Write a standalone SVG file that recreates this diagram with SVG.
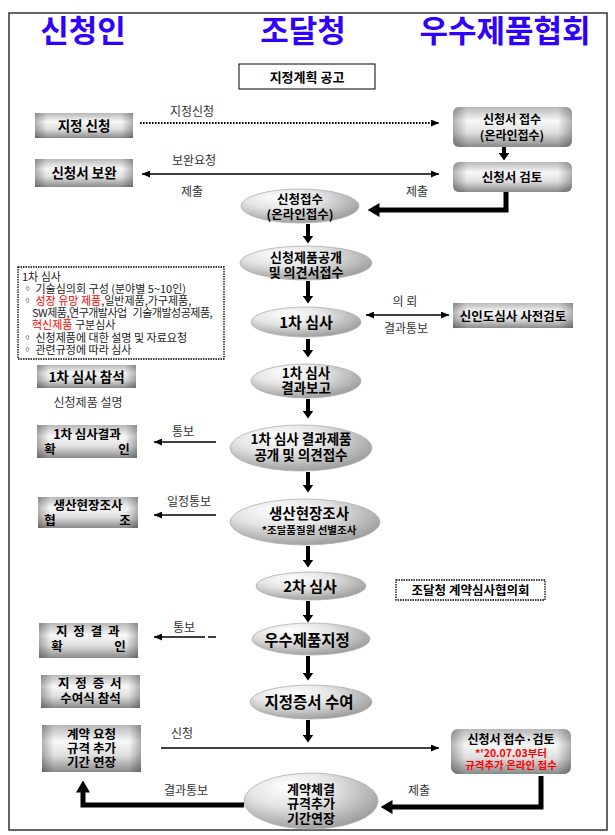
<svg xmlns="http://www.w3.org/2000/svg" width="615" height="835" viewBox="0 0 615 835">
<style>
text{font-family:"Noto Sans CJK KR","Noto Sans",sans-serif;}
.ttl{font-size:31px;font-weight:bold;fill:#3000ff;text-anchor:middle;}
.b{font-weight:bold;fill:#000;text-anchor:middle;}
.lb{font-size:12px;fill:#333;text-anchor:middle;}
.nt{font-size:11px;fill:#222;}
.red{fill:#f00;}
.box{fill:url(#gBox);}
.edge{fill:url(#gEdge);}
.el{fill:url(#gEl);stroke:#b0b0b0;stroke-width:0.8;}
.thin{stroke:#000;stroke-width:1.3;fill:none;}
.va{stroke:#000;stroke-width:4;fill:none;marker-end:url(#mV);}
.thick{stroke:#000;stroke-width:5;fill:none;marker-end:url(#mB);}
</style>
<defs>
<linearGradient id="gBox" x1="0" y1="0" x2="0" y2="1">
<stop offset="0" stop-color="#b8b8b8"/>
<stop offset="0.35" stop-color="#f8f8f8"/>
<stop offset="0.65" stop-color="#dedede"/>
<stop offset="1" stop-color="#8a8a8a"/>
</linearGradient>
<linearGradient id="gEdge" x1="0" y1="0" x2="1" y2="0">
<stop offset="0" stop-color="#000" stop-opacity="0.28"/>
<stop offset="0.12" stop-color="#000" stop-opacity="0"/>
<stop offset="0.88" stop-color="#000" stop-opacity="0"/>
<stop offset="1" stop-color="#000" stop-opacity="0.28"/>
</linearGradient>
<radialGradient id="gEl" cx="0.4" cy="0.35" r="0.72" fx="0.32" fy="0.22">
<stop offset="0" stop-color="#ffffff"/>
<stop offset="0.45" stop-color="#e4e4e4"/>
<stop offset="1" stop-color="#959595"/>
</radialGradient>
<marker id="mT" viewBox="0 0 8 7" markerWidth="8" markerHeight="7" refX="8" refY="3.5" orient="auto-start-reverse" markerUnits="userSpaceOnUse">
<path d="M0,0 L8,3.5 L0,7 z" fill="#000"/>
</marker>
<marker id="mV" viewBox="0 0 8 11" markerWidth="8" markerHeight="11" refX="0.5" refY="5.5" orient="auto" markerUnits="userSpaceOnUse">
<path d="M0,0 L8,5.5 L0,11 z" fill="#000"/>
</marker>
<marker id="mB" viewBox="0 0 12 14" markerWidth="12" markerHeight="14" refX="0.5" refY="7" orient="auto" markerUnits="userSpaceOnUse">
<path d="M0,0 L12,7 L0,14 z" fill="#000"/>
</marker>
</defs>
<rect x="0" y="0" width="615" height="835" fill="#fff"/>
<rect x="9" y="13" width="598" height="817" fill="none" stroke="#333" stroke-width="1.5"/>

<g id="titles">
<text class="ttl" x="83" y="42">신청인</text>
<text class="ttl" x="303" y="42">조달청</text>
<text class="ttl" x="505" y="42">우수제품협회</text>
</g>

<g id="n-notice">
<rect x="239" y="64" width="136" height="25" fill="#fff" stroke="#000" stroke-width="1"/>
<text class="b" x="307" y="82" font-size="13">지정계획 공고</text>
</g>

<g id="n-apply">
<rect class="box" x="35" y="113" width="98" height="25"/><rect class="edge" x="35" y="113" width="98" height="25"/>
<text class="b" x="84" y="130.5" font-size="13.5">지정 신청</text>
</g>
<g id="n-supplement">
<rect class="box" x="35" y="159" width="98" height="28"/><rect class="edge" x="35" y="159" width="98" height="28"/>
<text class="b" x="84" y="178" font-size="13.5">신청서 보완</text>
</g>
<g id="n-receive">
<rect class="box" x="453" y="107" width="119" height="40" rx="6"/><rect class="edge" x="453" y="107" width="119" height="40" rx="6"/>
<text class="b" x="512" y="124" font-size="12">신청서 접수</text>
<text class="b" x="512" y="139.5" font-size="12">(온라인접수)</text>
</g>
<g id="n-review">
<rect class="box" x="453" y="162" width="119" height="30" rx="6"/><rect class="edge" x="453" y="162" width="119" height="30" rx="6"/>
<text class="b" x="512" y="182" font-size="12.5">신청서 검토</text>
</g>
<g id="n-accept">
<ellipse class="el" cx="300" cy="206" rx="59" ry="17"/>
<text class="b" x="300" y="204" font-size="12.5">신청접수</text>
<text class="b" x="300" y="219" font-size="12.5">(온라인접수)</text>
</g>
<g id="n-open">
<ellipse class="el" cx="306" cy="263" rx="66" ry="17"/>
<text class="b" x="306" y="262" font-size="13">신청제품공개</text>
<text class="b" x="306" y="277" font-size="13">및 의견서접수</text>
</g>
<g id="n-exam1">
<ellipse class="el" cx="306" cy="322" rx="55" ry="15"/>
<text class="b" x="306" y="328" font-size="15">1차 심사</text>
</g>
<g id="n-credit">
<rect class="box" x="453" y="303" width="120" height="25"/><rect class="edge" x="453" y="303" width="120" height="25"/>
<text class="b" x="513" y="321" font-size="12.5">신인도심사 사전검토</text>
</g>
<g id="n-note">
<rect x="18" y="267" width="206" height="92" fill="#fff" stroke="#000" stroke-width="1.3" stroke-dasharray="1.5 1"/>
<text class="nt" x="22" y="281">1차 심사</text>
<text class="nt" x="22" y="293">◦ 기술심의회 구성 (분야별 5~10인)</text>
<text class="nt" x="22" y="305">◦ <tspan class="red">성장 유망 제품</tspan>,일반제품,가구제품,</text>
<text class="nt" x="32" y="317" letter-spacing="-0.5">SW제품,연구개발사업&#160;&#160; 기술개발성공제품,</text>
<text class="nt" x="32" y="329"><tspan class="red">혁신제품</tspan> 구분심사</text>
<text class="nt" x="22" y="342">◦ 신청제품에 대한 설명 및 자료요청</text>
<text class="nt" x="22" y="354">◦ 관련규정에 따라 심사</text>
</g>
<g id="n-attend1">
<rect class="box" x="37" y="365" width="99" height="23"/><rect class="edge" x="37" y="365" width="99" height="23"/>
<text class="b" x="86.5" y="381.5" font-size="13.5">1차 심사 참석</text>
</g>
<g id="n-explain">
<text class="lb" x="88" y="407">신청제품 설명</text>
</g>
<g id="n-report1">
<ellipse class="el" cx="306" cy="381" rx="55" ry="17"/>
<text class="b" x="306" y="377.5" font-size="13.5">1차 심사</text>
<text class="b" x="306" y="393" font-size="13.5">결과보고</text>
</g>
<g id="n-open2">
<ellipse class="el" cx="301" cy="448" rx="71" ry="23"/>
<text class="b" x="301" y="444" font-size="13.5">1차 심사 결과제품</text>
<text class="b" x="301" y="460" font-size="13.5">공개 및 의견접수</text>
</g>
<g id="n-check1">
<rect class="box" x="37" y="425" width="100" height="33"/><rect class="edge" x="37" y="425" width="100" height="33"/>
<text class="b" x="87" y="438.5" font-size="12.5">1차 심사결과</text>
<text class="b" font-size="12.5" y="453.5"><tspan x="50">확</tspan><tspan x="124">인</tspan></text>
</g>
<g id="n-coop">
<rect class="box" x="38" y="497" width="100" height="31"/><rect class="edge" x="38" y="497" width="100" height="31"/>
<text class="b" x="88" y="509.5" font-size="12.5">생산현장조사</text>
<text class="b" font-size="12.5" y="524.5"><tspan x="50">협</tspan><tspan x="125">조</tspan></text>
</g>
<g id="n-field">
<ellipse class="el" cx="305" cy="522" rx="75" ry="23"/>
<text class="b" x="309" y="519" font-size="14.5">생산현장조사</text>
<text class="b" x="309" y="534" font-size="10.5">*조달품질원 선별조사</text>
</g>
<g id="n-exam2">
<ellipse class="el" cx="311" cy="586" rx="55" ry="14"/>
<text class="b" x="310" y="592" font-size="15">2차 심사</text>
</g>
<g id="n-council">
<rect x="396" y="580" width="149" height="20" fill="#fff" stroke="#000" stroke-width="1.3" stroke-dasharray="1.5 1"/>
<text class="b" x="470.5" y="595" font-size="12.5">조달청 계약심사협의회</text>
</g>
<g id="n-designate">
<ellipse class="el" cx="311" cy="639" rx="59" ry="16"/>
<text class="b" x="307" y="646" font-size="15.5">우수제품지정</text>
</g>
<g id="n-check2">
<rect class="box" x="39" y="623" width="99" height="35"/><rect class="edge" x="39" y="623" width="99" height="35"/>
<text class="b" x="88.5" y="636" font-size="12.5" letter-spacing="1.5">지 정 결 과</text>
<text class="b" font-size="12.5" y="651"><tspan x="57">확</tspan><tspan x="120">인</tspan></text>
</g>
<g id="n-ceremony">
<rect class="box" x="41" y="675" width="99" height="33"/><rect class="edge" x="41" y="675" width="99" height="33"/>
<text class="b" x="90.5" y="688" font-size="12.5" letter-spacing="1.5">지 정 증 서</text>
<text class="b" x="90.5" y="703" font-size="12.5">수여식 참석</text>
</g>
<g id="n-award">
<ellipse class="el" cx="311" cy="702" rx="61" ry="17"/>
<text class="b" x="309" y="708" font-size="15.5">지정증서 수여</text>
</g>
<g id="n-contract-req">
<rect class="box" x="42" y="725" width="99" height="47"/><rect class="edge" x="42" y="725" width="99" height="47"/>
<text class="b" x="91.5" y="739" font-size="12.5">계약 요청</text>
<text class="b" x="91.5" y="753" font-size="12.5">규격 추가</text>
<text class="b" x="91.5" y="767" font-size="12.5">기간 연장</text>
</g>
<g id="n-receive2">
<rect class="box" x="451" y="729" width="120" height="45" rx="7"/><rect class="edge" x="451" y="729" width="120" height="45" rx="7"/>
<text class="b" x="511" y="743.5" font-size="12">신청서 접수·검토</text>
<text class="b red" x="511" y="756.5" font-size="10.5">*'20.07.03부터</text>
<text class="b red" x="511" y="769" font-size="10.5">규격추가 온라인 접수</text>
</g>
<g id="n-contract">
<ellipse class="el" cx="311" cy="801" rx="67" ry="28"/>
<text class="b" x="311" y="793.5" font-size="13">계약체결</text>
<text class="b" x="311" y="808" font-size="13">규격추가</text>
<text class="b" x="311" y="822.5" font-size="13">기간연장</text>
</g>

<g id="connectors">
<line x1="140" y1="123" x2="439" y2="123" stroke="#000" stroke-width="2" stroke-dasharray="1.6 1.4" marker-end="url(#mT)"/>
<text class="lb" x="192" y="116">지정신청</text>
<line class="thin" x1="142" y1="174" x2="439" y2="174" marker-start="url(#mT)" marker-end="url(#mT)"/>
<text class="lb" x="194" y="165">보완요청</text>
<text class="lb" x="192" y="196">제출</text>
<text class="lb" x="417" y="196">제출</text>
<line class="va" x1="504" y1="147" x2="504" y2="153"/>
<polyline class="thick" points="506,192 506,210 379,210"/>
<line class="va" x1="308" y1="224" x2="308" y2="236"/>
<line class="va" x1="308" y1="281" x2="308" y2="296"/>
<line class="thin" x1="366" y1="315" x2="449" y2="315" marker-start="url(#mT)" marker-end="url(#mT)"/>
<text class="lb" x="405" y="306">의 뢰</text>
<text class="lb" x="406" y="333">결과통보</text>
<line class="va" x1="308" y1="339" x2="308" y2="350"/>
<line class="va" x1="308" y1="399" x2="308" y2="411"/>
<line class="thin" x1="216" y1="442" x2="154" y2="442" marker-end="url(#mT)"/>
<text class="lb" x="183" y="436">통보</text>
<line class="va" x1="308" y1="472" x2="308" y2="485"/>
<line class="thin" x1="216" y1="515" x2="154" y2="515" marker-end="url(#mT)"/>
<text class="lb" x="189" y="506">일정통보</text>
<line class="va" x1="308" y1="546" x2="308" y2="560"/>
<line class="va" x1="308" y1="601" x2="308" y2="615"/>
<line class="thin" x1="216" y1="637" x2="154" y2="637" stroke-dasharray="8 3 80" marker-end="url(#mT)"/>
<text class="lb" x="184" y="632">통보</text>
<line class="va" x1="308" y1="656" x2="308" y2="673"/>
<line class="va" x1="308" y1="720" x2="308" y2="735"/>
<line class="thin" x1="161" y1="748" x2="439" y2="748" marker-end="url(#mT)"/>
<text class="lb" x="182" y="738">신청</text>
<polyline class="thick" points="541,776 541,807 392,807"/>
<text class="lb" x="419" y="795">제출</text>
<polyline class="thick" points="244,805 83,805 83,792"/>
<text class="lb" x="186" y="795">결과통보</text>
</g>
</svg>
